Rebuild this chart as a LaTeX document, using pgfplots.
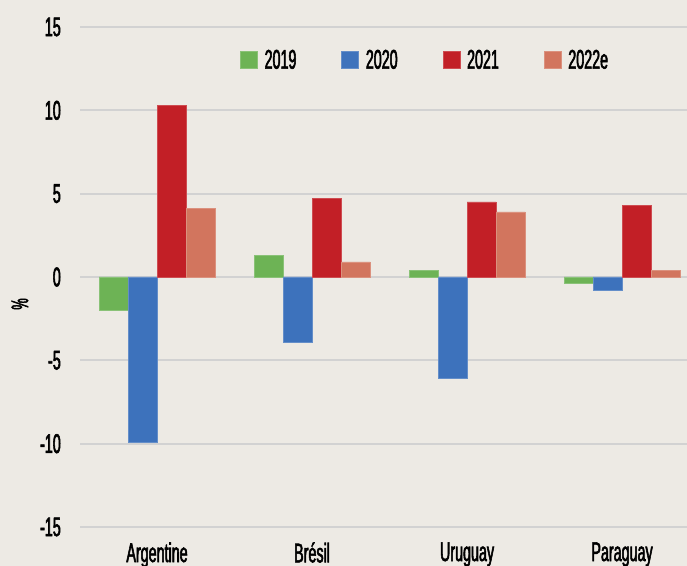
\documentclass[border=0pt]{standalone}
\usepackage{fontspec}
\setmainfont[FakeStretch=0.53,FakeBold=2]{Liberation Sans}
\usepackage{pgfplots}
\pgfplotsset{compat=1.18}
\definecolor{bg}{HTML}{EDEAE4}
\definecolor{gridc}{HTML}{D2D2D2}
\definecolor{cA}{HTML}{6DB355}
\definecolor{cB}{HTML}{3D72BC}
\definecolor{cC}{HTML}{C21F26}
\definecolor{cD}{HTML}{D2755E}
\newcommand{\f}{\fontsize{27bp}{31bp}\selectfont}
\begin{document}
\begin{tikzpicture}
\fill[bg] (0,0) rectangle (687bp,566bp);
\useasboundingbox (0,0) rectangle (687bp,566bp);
\begin{axis}[
  at={(80bp,39bp)}, anchor=south west,
  scale only axis, width=607bp, height=500bp,
  xmin=-0.497, xmax=3.419, ymin=-15, ymax=15,
  ytick={-15,-10,...,15},
  xtick={0,1,2,3},
  xticklabels={Argentine,Brésil,Uruguay,Paraguay},
  ybar=0pt, bar width=0.187,
  axis line style={draw=none},
  tick style={draw=none},
  ymajorgrids, grid style={gridc, line width=2bp},
  /pgf/number format/assume math mode=true,
  tick label style={font=\f, inner sep=0pt},
  yticklabel style={xshift=-19bp},
  xticklabel style={yshift=-11bp},
  ylabel={\%}, ylabel style={font=\fontsize{24bp}{28bp}\selectfont, at={(axis description cs:-0.099,0.446)}, anchor=center},
  legend columns=4,
  legend style={draw=none, fill=none, font=\f, at={(0.2636,0.934)}, anchor=west, inner sep=0pt,
    nodes={inner sep=0pt},
    /tikz/every odd column/.append style={column sep=7bp},
    /tikz/every even column/.append style={column sep=45bp}},
  legend image code/.code={\fill[#1] (0bp,-8.5bp) rectangle (17bp,8.5bp);},
]
\addplot[fill=cA, draw=cA!80!white] coordinates {(0,-2.0) (1,1.3) (2,0.4) (3,-0.4)};
\addplot[fill=cB, draw=cB!80!white] coordinates {(0,-9.9) (1,-3.9) (2,-6.1) (3,-0.8)};
\addplot[fill=cC, draw=cC!80!white] coordinates {(0,10.3) (1,4.7) (2,4.5) (3,4.3)};
\addplot[fill=cD, draw=cD!80!white] coordinates {(0,4.1) (1,0.9) (2,3.9) (3,0.4)};
\legend{2019,2020,2021,2022e}
\end{axis}
\end{tikzpicture}
\end{document}
